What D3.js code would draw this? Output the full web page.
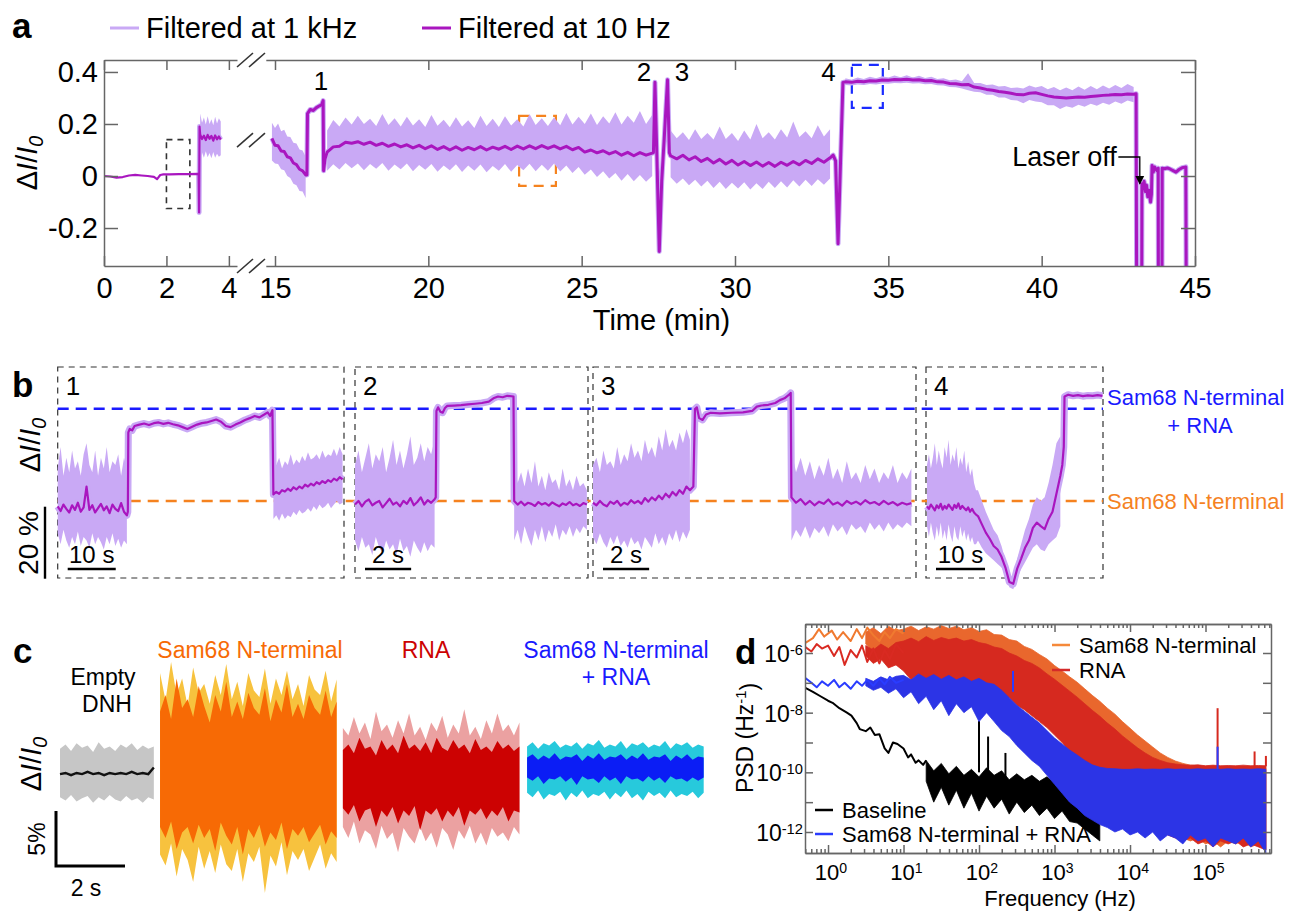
<!DOCTYPE html>
<html>
<head>
<meta charset="utf-8">
<script src="https://cdnjs.cloudflare.com/ajax/libs/d3/7.8.5/d3.min.js"></script>
<style>
  html, body { margin: 0; padding: 0; background: #fff; }
  svg { display: block; }
</style>
</head>
<body>
<svg id="chart" width="1294" height="912"></svg>
<script>
// ======================= DATA =======================

// ---- Panel a: ΔI/I0 versus time (min), broken time axis ----
const aXTicksLeft = [0, 2, 4];
const aXTicksRight = [15, 20, 25, 30, 35, 40, 45];
const aYTicks = [-0.2, 0, 0.2, 0.4];

// 10 Hz trace before the axis break: [min, ΔI/I0]
const a1Line = [[0,0],[0.2,-0.002],[0.4,-0.006],[0.6,-0.004],[0.8,0.002],[1.0,0.004],[1.2,0.002],[1.4,0],[1.6,-0.003],[1.7,-0.012],[1.75,-0.004],[1.8,0.004],[1.9,0.006],[2.1,0.006],[2.4,0.007],[2.7,0.007],[3.0,0.008],[3.03,0.008],[3.045,-0.14],[3.06,0.19]];
// first capture, sampled every 0.06 min from 3.08 min
const a1bStart = 3.08, a1bStep = 0.06;
const a1bDark = [0.16,0.142,0.155,0.138,0.158,0.143,0.154,0.136,0.156,0.141,0.152,0.14];
const a1bHi   = [0.24,0.205,0.225,0.198,0.23,0.2,0.218,0.195,0.228,0.202,0.222,0.21];
const a1bLo   = [0.065,0.09,0.07,0.095,0.072,0.088,0.068,0.092,0.07,0.086,0.074,0.08];

// after the break; pieces sampled on regular grids (10 Hz trace, 1 kHz envelope)
const aAStart = 14.9, aAStep = 0.1;
const aADark = [0.145,0.118,0.116,0.096,0.094,0.074,0.070,0.050,0.044,0.026,0.020,0.004];
const aAHi   = [0.205,0.185,0.202,0.172,0.178,0.152,0.150,0.128,0.125,0.102,0.098,0.074];
const aALo   = [0.060,0.048,0.046,0.026,0.022,0.000,-0.008,-0.030,-0.036,-0.058,-0.060,-0.085];

const aEvent1 = [[16.04,0.004],[16.06,0.24],[16.15,0.256],[16.25,0.252],[16.35,0.263],[16.45,0.27],[16.52,0.274],[16.57,0.29],[16.585,0.02],[16.63,0.065]];

const aBStart = 16.7, aBStep = 0.2;
const aBDark = [0.092,0.112,0.114,0.130,0.126,0.132,0.122,0.130,0.118,0.126,
  0.114,0.123,0.112,0.120,0.108,0.118,0.105,0.116,0.102,0.113,
  0.100,0.112,0.099,0.110,0.101,0.113,0.100,0.111,0.103,0.114,
  0.102,0.115,0.104,0.116,0.105,0.117,0.106,0.116,0.104,0.114,
  0.101,0.110,0.092,0.100,0.089,0.097,0.085,0.094,0.080,0.091,
  0.078,0.090,0.080,0.088];
const aBHi = [0.175,0.215,0.19,0.225,0.198,0.232,0.2,0.22,0.192,0.238,
  0.196,0.222,0.19,0.228,0.194,0.218,0.188,0.235,0.193,0.216,
  0.187,0.226,0.19,0.214,0.185,0.232,0.192,0.22,0.188,0.23,
  0.194,0.218,0.19,0.238,0.196,0.222,0.192,0.226,0.195,0.242,
  0.198,0.228,0.2,0.24,0.196,0.23,0.202,0.245,0.198,0.232,
  0.205,0.25,0.2,0.235];
const aBLo = [0.02,0.045,0.025,0.05,0.03,0.048,0.022,0.046,0.028,0.05,
  0.02,0.044,0.026,0.048,0.018,0.042,0.024,0.046,0.016,0.04,
  0.022,0.045,0.015,0.04,0.02,0.044,0.014,0.038,0.02,0.046,
  0.016,0.042,0.022,0.047,0.018,0.043,0.02,0.048,0.017,0.04,
  0.012,0.035,0.005,0.025,-0.004,0.018,-0.01,0.012,-0.018,0.008,
  -0.02,0.004,-0.022,0.0];

const aEvents23 = [[27.34,0.09],[27.39,0.36],[27.45,0.09],[27.53,-0.29],[27.61,-0.02],[27.7,0.16],[27.8,0.37],[27.86,0.09]];

const aCStart = 27.9, aCStep = 0.2;
const aCDark = [0.078,0.066,0.080,0.062,0.074,0.056,0.068,0.050,0.064,0.046,
  0.060,0.042,0.056,0.040,0.054,0.038,0.052,0.037,0.053,0.041,
  0.056,0.043,0.060,0.048,0.066,0.053,0.070];
const aCHi = [0.175,0.145,0.168,0.138,0.18,0.142,0.165,0.14,0.19,0.142,
  0.165,0.135,0.175,0.14,0.2,0.145,0.168,0.14,0.18,0.148,
  0.21,0.15,0.172,0.145,0.195,0.152,0.18];
const aCLo = [-0.005,-0.03,-0.01,-0.036,-0.014,-0.04,-0.018,-0.046,-0.022,-0.05,
  -0.026,-0.048,-0.024,-0.052,-0.028,-0.05,-0.022,-0.046,-0.02,-0.044,
  -0.016,-0.04,-0.014,-0.038,-0.012,-0.034,-0.01];

const aEvent4 = [[33.2,0.08],[33.28,0.058],[33.36,-0.26],[33.44,0.05],[33.52,0.36]];

const aDStart = 33.6, aDStep = 0.2;
const aDDark = [0.362,0.360,0.364,0.362,0.366,0.365,0.369,0.368,0.371,0.370,
  0.372,0.369,0.370,0.366,0.367,0.362,0.361,0.356,0.355,0.351,
  0.352,0.342,0.338,0.333,0.330,0.325,0.322,0.318,0.313,0.312,
  0.318,0.320,0.314,0.308,0.304,0.302,0.300,0.302,0.304,0.303,
  0.306,0.308,0.310,0.311,0.313,0.312,0.315,0.314];
const aDHi = [0.376,0.37,0.379,0.373,0.382,0.376,0.384,0.379,0.386,0.38,
  0.387,0.379,0.385,0.377,0.382,0.373,0.376,0.368,0.371,0.364,
  0.395,0.358,0.358,0.35,0.352,0.344,0.346,0.338,0.34,0.336,
  0.348,0.34,0.346,0.334,0.342,0.33,0.34,0.33,0.344,0.332,
  0.346,0.334,0.348,0.336,0.35,0.338,0.354,0.342];
const aDLo = [0.350,0.348,0.352,0.350,0.354,0.352,0.356,0.355,0.358,0.357,
  0.359,0.356,0.357,0.353,0.354,0.349,0.348,0.342,0.341,0.336,
  0.330,0.324,0.322,0.312,0.312,0.302,0.302,0.292,0.29,0.28,
  0.292,0.286,0.284,0.272,0.272,0.258,0.268,0.262,0.274,0.266,
  0.278,0.27,0.282,0.274,0.286,0.278,0.29,0.284];

// laser switched off: trace falls off-scale between short recoveries
const aLaserOff = [[43.08,0.316],[43.1,-0.6],[43.26,-0.6],[43.27,-0.03],[43.3,-0.05],[43.34,-0.02],[43.38,-0.06],[43.42,-0.035],[43.46,-0.08],[43.5,-0.055],[43.55,-0.1],[43.58,-0.07],[43.6,0.04],[43.64,0.015],[43.68,0.035],[43.72,0.028],[43.76,0.02],[43.8,0.03],[43.81,-0.6],[43.92,-0.6],[43.93,0.03],[44.0,0.028],[44.1,0.031],[44.2,0.026],[44.3,0.02],[44.38,0.015],[44.48,0.025],[44.58,0.032],[44.7,0.035],[44.72,-0.6]];

// highlighted windows in panel a
const aWindows = [
  {seg: 1, t0: 2.0,  t1: 2.75,  v0: -0.125, v1: 0.14,  color: "#333333", dash: "6,5",  w: 1.6},
  {seg: 2, t0: 22.96, t1: 24.16, v0: -0.038, v1: 0.231, color: "#f5831f", dash: "10,7", w: 2.2},
  {seg: 2, t0: 33.81, t1: 34.82, v0: 0.262,  v1: 0.427, color: "#1a2bff", dash: "10,7", w: 2.2}
];
const aEventLabels = [{t: 16.5, v: 0.33, s: "1"}, {t: 27.03, v: 0.365, s: "2"}, {t: 28.27, v: 0.365, s: "3"}, {t: 33.05, v: 0.365, s: "4"}];

// ---- Panel b: the four capture events (s, ΔI/I0) ----
const bDur = [59.6, 10.1, 14.0, 36.1];
const bScaleBar = [10, 2, 2, 10];
const bNames = ["1", "2", "3", "4"];
const bLevels = [0.10, 0.356];

const b1PreStart = 0, b1PreStep = 0.6;
const b1PreDark = [0.085,0.072,0.090,0.078,0.068,0.088,0.075,0.095,0.070,0.082,0.140,0.075,0.088,0.068,0.080,0.092,0.074,0.085,0.066,0.090,0.078,0.072,0.094,0.070,0.060];
const b1PreHi = [0.19,0.25,0.17,0.22,0.18,0.24,0.19,0.21,0.17,0.23,0.26,0.2,0.18,0.24,0.17,0.22,0.19,0.25,0.18,0.21,0.2,0.23,0.17,0.22,0.19];
const b1PreLo = [0.01,-0.02,0.02,-0.01,-0.03,0.0,-0.02,0.015,-0.025,0.0,-0.01,-0.03,0.01,-0.02,0.0,-0.015,-0.035,0.0,-0.02,0.01,-0.025,-0.005,-0.03,-0.01,-0.02];
const b1Plateau = [[14.6,0.07],[14.7,0.29],[15.0,0.30],[15.5,0.296],[16,0.308],[17,0.312],[18,0.315],[19,0.311],[20,0.316],[21,0.318],[22,0.314],[23,0.317],[24,0.313],[25,0.31],[26,0.305],[27,0.3],[28,0.306],[29,0.312],[30,0.316],[31,0.318],[32,0.322],[33,0.326],[34,0.32],[35,0.308],[36,0.305],[37,0.312],[38,0.318],[39,0.325],[40,0.33],[41,0.336],[42,0.332],[43,0.34],[43.7,0.346],[44.2,0.336],[44.7,0.352]];
const b1PostStart = 44.9, b1PostStep = 0.6;
const b1PostDark = [0.118,0.125,0.12,0.13,0.126,0.134,0.128,0.138,0.132,0.14,0.135,0.145,0.14,0.148,0.143,0.152,0.147,0.155,0.15,0.158,0.153,0.162,0.157,0.166,0.16];
const b1PostHi = [0.19,0.2,0.22,0.19,0.21,0.2,0.23,0.2,0.215,0.205,0.225,0.21,0.235,0.215,0.22,0.23,0.215,0.24,0.22,0.23,0.225,0.245,0.225,0.25,0.23];
const b1PostLo = [0.05,0.06,0.045,0.065,0.05,0.06,0.055,0.07,0.06,0.075,0.065,0.07,0.08,0.07,0.085,0.075,0.09,0.08,0.085,0.095,0.08,0.09,0.1,0.09,0.095];

const b2PreStart = 0, b2PreStep = 0.15;
const b2PreDark = [0.09,0.1,0.085,0.098,0.104,0.088,0.095,0.1,0.082,0.094,0.106,0.09,0.096,0.085,0.1,0.092,0.108,0.088,0.097,0.11,0.09,0.102,0.095,0.105];
const b2PreHi = [0.2,0.24,0.18,0.22,0.26,0.19,0.23,0.21,0.25,0.18,0.22,0.27,0.2,0.24,0.19,0.23,0.28,0.2,0.22,0.26,0.21,0.25,0.23,0.27];
const b2PreLo = [-0.01,-0.04,0.0,-0.03,-0.02,-0.05,0.0,-0.03,-0.045,-0.01,-0.035,-0.02,-0.05,-0.005,-0.04,-0.025,-0.055,-0.01,-0.03,-0.045,-0.015,-0.04,-0.02,-0.03];
const b2Plateau = [[3.5,0.11],[3.53,0.35],[3.6,0.36],[3.7,0.348],[3.8,0.345],[3.9,0.358],[4.0,0.364],[4.3,0.365],[4.6,0.366],[4.9,0.368],[5.2,0.37],[5.5,0.372],[5.8,0.376],[6.0,0.385],[6.2,0.39],[6.4,0.388],[6.6,0.392],[6.87,0.39]];
const b2PostStart = 6.9, b2PostStep = 0.15;
const b2PostDark = [0.1,0.09,0.098,0.088,0.095,0.092,0.086,0.097,0.09,0.094,0.087,0.096,0.09,0.085,0.093,0.089,0.097,0.088,0.092,0.086,0.094,0.09];
const b2PostHi = [0.2,0.15,0.18,0.14,0.19,0.15,0.21,0.14,0.17,0.13,0.18,0.15,0.16,0.13,0.19,0.14,0.16,0.13,0.17,0.14,0.15,0.13];
const b2PostLo = [-0.01,0.02,-0.02,0.03,0.0,-0.025,0.02,-0.01,0.03,-0.015,0.02,0.0,0.035,-0.01,0.02,0.005,0.03,0.0,0.025,0.01,0.03,0.02];

const b3PreStart = 0, b3PreStep = 0.15;
const b3PreDark = [0.095,0.088,0.1,0.09,0.085,0.098,0.092,0.1,0.087,0.095,0.09,0.102,0.094,0.1,0.092,0.108,0.098,0.11,0.102,0.115,0.105,0.12,0.11,0.125,0.115,0.13,0.12,0.14,0.13];
const b3PreHi = [0.2,0.22,0.18,0.24,0.2,0.21,0.19,0.25,0.2,0.23,0.21,0.26,0.22,0.24,0.21,0.27,0.23,0.25,0.22,0.28,0.24,0.3,0.25,0.27,0.24,0.29,0.26,0.3,0.27];
const b3PreLo = [0.0,-0.02,0.01,-0.015,-0.03,0.0,-0.02,0.005,-0.025,-0.01,-0.03,0.0,-0.02,-0.01,-0.035,0.0,-0.015,-0.03,0.01,-0.02,0.0,-0.025,0.01,-0.01,0.02,-0.015,0.015,-0.005,0.02];
const b3Plateau = [[4.35,0.14],[4.42,0.355],[4.5,0.36],[4.6,0.33],[4.75,0.325],[4.9,0.34],[5.1,0.345],[5.5,0.343],[6.0,0.345],[6.5,0.346],[6.9,0.35],[7.1,0.362],[7.3,0.365],[7.6,0.367],[7.9,0.372],[8.1,0.38],[8.3,0.385],[8.5,0.395],[8.57,0.4]];
const b3PostStart = 8.6, b3PostStep = 0.2;
const b3PostDark = [0.11,0.095,0.105,0.09,0.1,0.088,0.098,0.092,0.104,0.09,0.096,0.087,0.1,0.092,0.098,0.09,0.102,0.093,0.097,0.089,0.1,0.091,0.097,0.088,0.095,0.09,0.094];
const b3PostHi = [0.24,0.18,0.22,0.17,0.21,0.16,0.2,0.17,0.22,0.16,0.19,0.15,0.21,0.16,0.18,0.15,0.2,0.16,0.19,0.15,0.18,0.16,0.2,0.15,0.18,0.16,0.19];
const b3PostLo = [-0.01,0.02,0.0,0.03,-0.005,0.025,0.01,0.03,0.0,0.035,0.015,0.03,0.005,0.035,0.02,0.03,0.01,0.04,0.02,0.035,0.015,0.04,0.02,0.035,0.025,0.04,0.03];

const b4PreStart = 0.2, b4PreStep = 0.4;
const b4PreDark = [0.085,0.078,0.09,0.082,0.074,0.088,0.08,0.092,0.076,0.086,0.079,0.09,0.083,0.075,0.089,0.081,0.093,0.078,0.086,0.08,0.074,0.082,0.07,0.078,0.068,0.062];
const b4PreHi = [0.2,0.23,0.19,0.22,0.26,0.2,0.24,0.21,0.19,0.25,0.22,0.27,0.2,0.23,0.21,0.25,0.19,0.22,0.2,0.24,0.18,0.21,0.17,0.19,0.15,0.13];
const b4PreLo = [0.03,0.0,0.04,0.01,-0.01,0.03,0.0,0.04,-0.005,0.02,-0.01,0.035,0.005,-0.015,0.03,0.0,-0.01,0.03,0.0,0.02,-0.01,0.01,-0.015,0.0,-0.02,-0.02];
const b4MidStart = 10.6, b4MidStep = 0.8;
const b4MidDark = [0.058,0.035,0.012,-0.005,-0.025,-0.035,-0.055,-0.085,-0.125,-0.13,-0.088,-0.06,-0.03,-0.01,0.025,0.04,0.03,0.022,0.05,0.07,0.12,0.17];
const b4MidHi = [0.13,0.1,0.07,0.045,0.02,0.005,-0.025,-0.065,-0.11,-0.115,-0.06,-0.02,0.02,0.05,0.09,0.11,0.1,0.11,0.15,0.2,0.26,0.28];
const b4MidLo = [-0.01,-0.03,-0.045,-0.055,-0.065,-0.075,-0.085,-0.105,-0.14,-0.145,-0.115,-0.09,-0.07,-0.05,-0.03,-0.02,-0.035,-0.04,-0.02,-0.01,0.0,0.03];
const b4Plateau = [[27.8,0.2],[28.1,0.25],[28.25,0.39],[29,0.395],[30,0.392],[31,0.394],[32,0.391],[33,0.393],[34,0.392],[35,0.394],[36,0.392]];

// ---- Panel c: 1 kHz / 10 Hz noise of each state (s, ΔI/I0) ----
const cStart = [0, 2.9, 8.2, 13.54];
const cStep = 0.16;
const cOffset = [0, 0.001, -0.004, 0.002];
const grayHi = [0.022,0.026,0.02,0.027,0.023,0.025,0.019,0.028,0.022,0.024,0.02,0.026,0.023,0.027,0.021,0.025,0.022,0.024];
const grayLo = [-0.022,-0.025,-0.02,-0.026,-0.023,-0.021,-0.027,-0.022,-0.025,-0.02,-0.024,-0.026,-0.021,-0.025,-0.023,-0.027,-0.022,-0.024];
const grayLine = [-0.001,0,-0.002,0,-0.001,0.001,-0.001,0,-0.002,0,-0.001,0,-0.001,0.001,-0.001,0,-0.001,0.005];
const orangeLightHi = [0.09,0.065,0.1,0.07,0.085,0.06,0.095,0.072,0.08,0.062,0.088,0.07,0.098,0.066,0.082,0.06,0.09,0.074,0.068,0.094,0.062,0.085,0.07,0.092,0.066,0.08,0.06,0.088,0.075,0.07,0.092,0.064,0.084];
const orangeLightLo = [-0.075,-0.085,-0.065,-0.095,-0.07,-0.08,-0.1,-0.068,-0.088,-0.072,-0.092,-0.066,-0.084,-0.09,-0.07,-0.1,-0.074,-0.082,-0.068,-0.11,-0.076,-0.086,-0.064,-0.094,-0.072,-0.08,-0.07,-0.09,-0.078,-0.066,-0.088,-0.074,-0.082];
const orangeDarkHi = [0.055,0.07,0.048,0.085,0.058,0.066,0.05,0.078,0.06,0.045,0.07,0.055,0.082,0.05,0.064,0.048,0.072,0.058,0.052,0.076,0.046,0.066,0.054,0.08,0.05,0.062,0.048,0.07,0.058,0.052,0.074,0.05,0.064];
const orangeDarkLo = [-0.05,-0.06,-0.045,-0.07,-0.055,-0.05,-0.065,-0.048,-0.06,-0.052,-0.072,-0.046,-0.058,-0.066,-0.05,-0.075,-0.052,-0.06,-0.048,-0.068,-0.055,-0.062,-0.046,-0.07,-0.052,-0.058,-0.05,-0.064,-0.056,-0.048,-0.066,-0.054,-0.06];
const redLightHi = [0.045,0.038,0.055,0.04,0.05,0.035,0.06,0.042,0.048,0.036,0.052,0.04,0.058,0.038,0.046,0.034,0.05,0.042,0.056,0.036,0.048,0.04,0.062,0.038,0.046,0.035,0.052,0.04,0.058,0.042,0.048,0.038,0.05];
const redLightLo = [-0.045,-0.055,-0.04,-0.06,-0.048,-0.052,-0.065,-0.044,-0.056,-0.05,-0.068,-0.046,-0.054,-0.06,-0.045,-0.058,-0.05,-0.064,-0.046,-0.052,-0.066,-0.048,-0.056,-0.044,-0.06,-0.05,-0.062,-0.046,-0.054,-0.05,-0.058,-0.045,-0.052];
const redDarkHi = [0.025,0.03,0.022,0.036,0.026,0.028,0.02,0.034,0.025,0.03,0.022,0.038,0.026,0.03,0.024,0.032,0.022,0.036,0.027,0.024,0.034,0.026,0.03,0.022,0.035,0.025,0.028,0.023,0.033,0.026,0.03,0.024,0.028];
const redDarkLo = [-0.028,-0.034,-0.025,-0.04,-0.03,-0.028,-0.045,-0.03,-0.036,-0.027,-0.042,-0.03,-0.035,-0.026,-0.048,-0.03,-0.034,-0.028,-0.04,-0.03,-0.036,-0.027,-0.044,-0.03,-0.034,-0.028,-0.038,-0.03,-0.035,-0.027,-0.04,-0.03,-0.032];
const cyanHi = [0.022,0.026,0.02,0.025,0.023,0.027,0.021,0.024,0.022,0.026,0.02,0.025,0.023,0.028,0.021,0.024,0.022,0.027,0.02,0.025,0.023,0.026,0.021,0.024,0.022,0.027,0.02,0.025,0.023,0.026,0.021,0.024,0.022];
const cyanLo = [-0.02,-0.024,-0.018,-0.026,-0.021,-0.023,-0.019,-0.027,-0.02,-0.024,-0.018,-0.025,-0.021,-0.023,-0.019,-0.026,-0.02,-0.024,-0.018,-0.025,-0.021,-0.027,-0.019,-0.023,-0.02,-0.025,-0.018,-0.024,-0.021,-0.023,-0.019,-0.025,-0.02];
const blueHi = [0.012,0.015,0.01,0.014,0.011,0.016,0.01,0.013,0.012,0.015,0.009,0.014,0.011,0.016,0.01,0.013,0.012,0.015,0.01,0.014,0.011,0.016,0.01,0.013,0.012,0.015,0.009,0.014,0.011,0.015,0.01,0.013,0.012];
const blueLo = [-0.006,-0.009,-0.005,-0.012,-0.007,-0.008,-0.005,-0.01,-0.006,-0.013,-0.005,-0.008,-0.007,-0.011,-0.005,-0.009,-0.006,-0.012,-0.005,-0.008,-0.007,-0.01,-0.005,-0.009,-0.006,-0.011,-0.005,-0.008,-0.007,-0.01,-0.006,-0.009,-0.006];

// ---- Panel d: power spectral density, values are log10(Hz) and log10(PSD) ----
const dXTickExp = [0, 1, 2, 3, 4, 5];
const dYTickExp = [-12, -11, -10, -9, -8, -7, -6];
const dYLabelExp = [-12, -10, -8, -6];
const psdBandStart = 0.5, psdBandStep = 0.1;
const orangeLow = [[-0.30,-5.66],[-0.2,-5.5],[-0.12,-5.2],[-0.05,-5.45],[0.05,-5.25],[0.12,-5.55],[0.2,-5.3],[0.3,-5.6],[0.38,-5.2],[0.45,-5.5],[0.52,-5.15],[0.6,-5.4],[0.68,-5.6],[0.75,-5.3],[0.82,-5.5],[0.9,-5.2],[1.0,-5.35]];
const orangeHi = [-5.3,-5.15,-5.35,-5.1,-5.25,
  -5.2,-5.1,-5.25,-5.12,-5.2,-5.08,-5.18,-5.1,-5.22,-5.15,
  -5.28,-5.22,-5.38,-5.4,-5.55,-5.6,-5.78,-5.88,-6.05,-6.2,
  -6.42,-6.6,-6.8,-6.98,-7.2,-7.42,-7.62,-7.85,-8.05,-8.3,
  -8.52,-8.75,-8.95,-9.15,-9.35,-9.5,-9.62,-9.7,-9.76,-9.78,
  -9.8,-9.78,-9.8,-9.82,-9.8,-9.82,-9.8,-9.82,-9.84];
const orangeLo = [-5.7,-5.95,-5.8,-6.15,-6.0,
  -6.3,-6.6,-6.4,-6.8,-6.5,-6.9,-6.6,-7.0,-6.7,-7.1,
  -6.8,-7.1,-6.9,-7.2,-7.1,-7.3,-7.4,-7.6,-7.8,-8.0,
  -8.3,-8.5,-8.8,-9.0,-9.3,-9.6,-9.9,-10.2,-10.5,-10.8,
  -11.0,-11.3,-11.5,-11.7,-11.9,-12.0,-12.1,-12.2,-12.3,-12.2,
  -12.4,-12.3,-12.5,-12.3,-12.4,-12.3,-12.5,-12.4,-12.6];
const redLow = [[-0.30,-5.8],[-0.22,-5.95],[-0.15,-5.7],[-0.08,-5.85],[0.0,-5.75],[0.08,-6.1],[0.15,-5.8],[0.22,-6.4],[0.3,-5.9],[0.38,-6.15],[0.45,-5.75],[0.52,-6.3],[0.6,-5.85],[0.68,-6.35],[0.75,-5.9],[0.82,-6.2],[0.9,-5.7],[1.0,-6.0]];
const redHi = [-5.75,-5.9,-5.7,-5.85,-5.65,
  -5.6,-5.5,-5.62,-5.45,-5.58,-5.48,-5.55,-5.5,-5.6,-5.55,
  -5.65,-5.7,-5.8,-5.85,-6.0,-6.1,-6.25,-6.35,-6.5,-6.7,
  -6.88,-7.08,-7.28,-7.48,-7.7,-7.92,-8.12,-8.35,-8.55,-8.78,
  -8.98,-9.18,-9.35,-9.5,-9.6,-9.68,-9.72,-9.75,-9.76,-9.75,
  -9.78,-9.76,-9.78,-9.77,-9.78,-9.76,-9.78,-9.77,-9.78];
const redLo = [-6.1,-6.35,-6.2,-6.5,-6.4,
  -6.6,-6.9,-6.7,-7.1,-6.8,-7.2,-6.9,-7.3,-7.0,-7.35,
  -7.1,-7.4,-7.3,-7.6,-7.5,-7.75,-7.9,-8.1,-8.3,-8.5,
  -8.75,-9.0,-9.3,-9.55,-9.85,-10.1,-10.4,-10.7,-11.0,-11.2,
  -11.4,-11.6,-11.8,-11.9,-12.0,-12.1,-12.2,-12.3,-12.2,-12.4,
  -12.3,-12.5,-12.3,-12.4,-12.3,-12.5,-12.4,-12.5,-12.6];
const blueLow = [[-0.30,-6.84],[-0.22,-7.0],[-0.15,-7.15],[-0.08,-6.95],[0.0,-7.1],[0.08,-6.9],[0.15,-7.15],[0.22,-7.0],[0.3,-7.2],[0.38,-6.95],[0.45,-7.1],[0.52,-6.9],[0.6,-7.1],[0.68,-6.85],[0.75,-7.05],[0.82,-6.8],[0.9,-7.0],[1.0,-6.9]];
const blueHiPsd = [-6.85,-6.95,-6.8,-6.9,-6.78,
  -6.75,-6.9,-6.7,-6.85,-6.72,-6.88,-6.75,-6.9,-6.8,-6.95,
  -6.85,-7.0,-7.05,-7.25,-7.5,-7.75,-7.95,-8.15,-8.35,-8.6,
  -8.85,-9.05,-9.25,-9.42,-9.6,-9.75,-9.83,-9.87,-9.88,-9.9,
  -9.9,-9.88,-9.9,-9.89,-9.9,-9.88,-9.9,-9.89,-9.9,-9.88,
  -9.9,-9.89,-9.9,-9.88,-9.9,-9.89,-9.9,-9.88,-9.9];
const blueLoPsd = [-7.1,-7.25,-7.15,-7.35,-7.2,
  -7.5,-7.3,-7.7,-7.45,-7.9,-7.6,-8.1,-7.7,-8.0,-7.8,
  -8.3,-8.0,-8.3,-8.6,-8.8,-9.1,-9.35,-9.6,-9.8,-10.1,
  -10.4,-10.7,-11.0,-11.2,-11.45,-11.6,-11.75,-11.85,-12.0,-11.9,
  -12.1,-12.0,-12.2,-12.0,-12.3,-12.1,-12.2,-12.4,-12.1,-12.3,
  -12.2,-12.5,-12.2,-12.3,-12.4,-12.2,-12.5,-12.3,-12.7];
const blackLow = [[-0.30,-7.17],[-0.2,-7.3],[-0.1,-7.45],[0.0,-7.6],[0.06,-7.67],[0.15,-7.85],[0.25,-8.0],[0.31,-8.1],[0.38,-8.35],[0.42,-8.55],[0.5,-8.62],[0.56,-8.5],[0.62,-8.75],[0.68,-8.72],[0.75,-9.2],[0.8,-9.35],[0.86,-9.0],[0.92,-9.05],[1.0,-9.2],[1.06,-9.5],[1.1,-9.4],[1.16,-9.68],[1.2,-9.6],[1.26,-9.75],[1.3,-9.6]];
const blackBandStart = 1.3;
const blackHi = [-9.6,-9.95,-9.7,-10.05,-9.8,-10.1,-9.9,-10.15,-9.85,-10.1,-9.95,-10.25,-10.05,-10.25,-10.1,-10.3,-10.15,-10.35,-10.2,-10.45,-10.5,-10.65,-10.8,-11.0];
const blackLo = [-10.3,-11.0,-10.5,-11.1,-10.6,-11.2,-10.7,-11.3,-10.8,-11.2,-10.9,-11.4,-11.0,-11.35,-11.1,-11.45,-11.2,-11.55,-11.3,-11.65,-11.7,-11.9,-12.1,-12.3];
// narrow spectral lines: [log10 f, from, to]
const blackPeaks = [[2.0,-10.0,-8.28],[2.12,-10.1,-8.8],[2.35,-10.2,-9.35]];
const bluePeaks = [[2.45,-7.3,-6.6],[5.16,-9.9,-9.14]];
const redPeaks = [[5.16,-9.8,-7.85],[5.65,-9.8,-9.3],[5.8,-9.8,-9.45]];

// ======================= DRAWING =======================
const FONT = '"Liberation Sans", Arial, Helvetica, sans-serif';
const LIGHT = "#c9a9f5", DARK = "#a916bf", AXIS = "#666666";
const svg = d3.select("#chart").attr("font-family", FONT);
const defs = svg.append("defs");

const grid = (start, step, ...cols) => cols[0].map((_, i) => [start + i * step, ...cols.map(c => c[i])]);

function frameAxis(g, size) {
  g.attr("font-family", FONT).attr("font-size", size);
  g.selectAll(".domain, .tick line").attr("stroke", AXIS).attr("stroke-width", 1.5);
  g.selectAll(".tick text").attr("fill", "#000");
}
function ratioLabel(g, x, y, size) {
  const t = g.append("text").attr("transform", `translate(${x},${y}) rotate(-90)`)
    .attr("text-anchor", "middle").attr("font-size", size).attr("fill", "#000");
  t.append("tspan").text("Δ");
  t.append("tspan").attr("font-style", "italic").text("I");
  t.append("tspan").text("/");
  t.append("tspan").attr("font-style", "italic").text("I");
  t.append("tspan").attr("font-style", "italic").attr("font-size", "0.68em").attr("dy", "0.32em").text("0");
}
function panelLetter(x, y, s) {
  svg.append("text").attr("x", x).attr("y", y).attr("font-size", 35).attr("font-weight", "bold").text(s);
}

// ---------------- Panel a ----------------
const xA1 = d3.scaleLinear().domain([0, 4.26]).range([104, 237]);
const xA2 = d3.scaleLinear().domain([14.7, 45]).range([265.8, 1195]);
const yA = d3.scaleLinear().domain([-0.346, 0.446]).range([266, 60]);
const gA = svg.append("g");

defs.append("clipPath").attr("id", "clipA").append("rect")
  .attr("x", xA1.range()[0]).attr("y", yA.range()[1])
  .attr("width", xA2.range()[1] - xA1.range()[0]).attr("height", yA.range()[0] - yA.range()[1]);

// windows drawn beneath the traces
aWindows.forEach(w => {
  const sx = w.seg === 1 ? xA1 : xA2;
  gA.append("rect").attr("x", sx(w.t0)).attr("y", yA(w.v1))
    .attr("width", sx(w.t1) - sx(w.t0)).attr("height", yA(w.v0) - yA(w.v1))
    .attr("fill", "none").attr("stroke", w.color).attr("stroke-width", w.w).attr("stroke-dasharray", w.dash);
});

const plotA = gA.append("g").attr("clip-path", "url(#clipA)");
function bandA(sx, pts) {
  plotA.append("path").datum(pts).attr("fill", LIGHT)
    .attr("d", d3.area().x(d => sx(d[0])).y0(d => yA(d[2])).y1(d => yA(d[3])));
}
const lineA = sx => d3.line().x(d => sx(d[0])).y(d => yA(d[1]));

// segment before the break
const a1b = grid(a1bStart, a1bStep, a1bDark, a1bLo, a1bHi);
bandA(xA1, a1b);
const a1All = a1Line.concat(a1b.map(d => [d[0], d[1]]));
plotA.append("path").datum(a1All.filter(d => d[0] > 3.02)).attr("fill", "none")
  .attr("stroke", LIGHT).attr("stroke-width", 5).attr("stroke-linejoin", "round").attr("d", lineA(xA1));
plotA.append("path").datum(a1All).attr("fill", "none")
  .attr("stroke", DARK).attr("stroke-width", 2.2).attr("stroke-linejoin", "round").attr("d", lineA(xA1));

// segment after the break
const pA = grid(aAStart, aAStep, aADark, aALo, aAHi);
const pB = grid(aBStart, aBStep, aBDark, aBLo, aBHi);
const pC = grid(aCStart, aCStep, aCDark, aCLo, aCHi);
const pD = grid(aDStart, aDStep, aDDark, aDLo, aDHi);
[pA, pB, pC, pD].forEach(p => bandA(xA2, p));
const a2All = [].concat(
  pA.map(d => [d[0], d[1]]), aEvent1, pB.map(d => [d[0], d[1]]), aEvents23,
  pC.map(d => [d[0], d[1]]), aEvent4, pD.map(d => [d[0], d[1]]), aLaserOff);
plotA.append("path").datum(a2All).attr("fill", "none")
  .attr("stroke", LIGHT).attr("stroke-width", 5).attr("stroke-linejoin", "round").attr("d", lineA(xA2));
plotA.append("path").datum(a2All).attr("fill", "none")
  .attr("stroke", DARK).attr("stroke-width", 3).attr("stroke-linejoin", "round").attr("d", lineA(xA2));

// axes (boxed, ticks inward)
[[xA1, aXTicksLeft], [xA2, aXTicksRight]].forEach(([sc, ticks]) => {
  gA.append("g").attr("transform", `translate(0,${yA.range()[0]})`)
    .call(d3.axisBottom(sc).tickValues(ticks).tickFormat(d3.format("d")).tickSizeInner(-10).tickSizeOuter(0).tickPadding(11))
    .call(frameAxis, 29);
  gA.append("g").attr("transform", `translate(0,${yA.range()[1]})`)
    .call(d3.axisTop(sc).tickValues(ticks).tickFormat("").tickSizeInner(-10).tickSizeOuter(0))
    .call(frameAxis, 29);
});
gA.append("g").attr("transform", `translate(${xA1.range()[0]},0)`)
  .call(d3.axisLeft(yA).tickValues(aYTicks).tickFormat(d => d === 0 ? "0" : d.toFixed(1)).tickSizeInner(-14).tickSizeOuter(0).tickPadding(6))
  .call(frameAxis, 29);
gA.append("g").attr("transform", `translate(${xA2.range()[1]},0)`)
  .call(d3.axisRight(yA).tickValues(aYTicks).tickFormat("").tickSizeInner(-14).tickSizeOuter(0))
  .call(frameAxis, 29);

// axis-break marks
const brk0 = xA1.range()[1];
[yA.range()[0], yA.range()[1], yA(0.138)].forEach(yc => {
  [0, 12].forEach(dx => gA.append("line")
    .attr("x1", brk0 + dx).attr("y1", yc + 7).attr("x2", brk0 + dx + 16).attr("y2", yc - 7)
    .attr("stroke", "#333").attr("stroke-width", 1.6));
});

gA.append("text").attr("x", (xA1.range()[0] + xA2.range()[1]) / 2 + 12).attr("y", 330)
  .attr("text-anchor", "middle").attr("font-size", 29).text("Time (min)");
ratioLabel(gA, 37, 163, 29);

aEventLabels.forEach(e => gA.append("text").attr("x", xA2(e.t)).attr("y", yA(e.v))
  .attr("text-anchor", "middle").attr("font-size", 26).text(e.s));

// "Laser off" annotation with elbow arrow
defs.append("marker").attr("id", "arrowHead").attr("viewBox", "0 0 10 10").attr("refX", 9).attr("refY", 5)
  .attr("markerWidth", 7).attr("markerHeight", 8).attr("orient", "auto-start-reverse")
  .append("path").attr("d", "M0,0 L10,5 L0,10 z").attr("fill", "#000");
gA.append("text").attr("x", xA2(42.45)).attr("y", yA(0.04)).attr("text-anchor", "end")
  .attr("font-size", 27).text("Laser off");
gA.append("path").attr("fill", "none").attr("stroke", "#000").attr("stroke-width", 1.3)
  .attr("marker-end", "url(#arrowHead)")
  .attr("d", `M${xA2(42.5)},${yA(0.073)} H${xA2(43.2)} V${yA(-0.03)}`);

// legend
const legA = [{x: 110, c: LIGHT, s: "Filtered at 1 kHz"}, {x: 422, c: DARK, s: "Filtered at 10 Hz"}];
legA.forEach(l => {
  gA.append("line").attr("x1", l.x).attr("x2", l.x + 29).attr("y1", 28).attr("y2", 28)
    .attr("stroke", l.c).attr("stroke-width", 3);
  gA.append("text").attr("x", l.x + 36).attr("y", 38).attr("font-size", 29).text(l.s);
});
panelLetter(12, 38, "a");

// ---------------- Panel b ----------------
const gB = svg.append("g");
const yB = d3.scaleLinear().domain([-0.114, 0.472]).range([578, 367]);
const bFrames = [[57.7, 344], [355, 588], [593, 916], [926, 1103]];
const bData = [
  {band: [grid(b1PreStart, b1PreStep, b1PreDark, b1PreLo, b1PreHi), grid(b1PostStart, b1PostStep, b1PostDark, b1PostLo, b1PostHi)], plateau: b1Plateau},
  {band: [grid(b2PreStart, b2PreStep, b2PreDark, b2PreLo, b2PreHi), grid(b2PostStart, b2PostStep, b2PostDark, b2PostLo, b2PostHi)], plateau: b2Plateau},
  {band: [grid(b3PreStart, b3PreStep, b3PreDark, b3PreLo, b3PreHi), grid(b3PostStart, b3PostStep, b3PostDark, b3PostLo, b3PostHi)], plateau: b3Plateau},
  {band: [grid(b4PreStart, b4PreStep, b4PreDark, b4PreLo, b4PreHi).concat(grid(b4MidStart, b4MidStep, b4MidDark, b4MidLo, b4MidHi)), []], plateau: b4Plateau}
];

// dashed frames
bFrames.forEach(f => gB.append("rect").attr("x", f[0]).attr("y", yB.range()[1])
  .attr("width", f[1] - f[0]).attr("height", yB.range()[0] - yB.range()[1])
  .attr("fill", "none").attr("stroke", "#333").attr("stroke-width", 1.2).attr("stroke-dasharray", "6,5"));

// reference levels
const bLevelColors = ["#f5821f", "#1a1aff"];
bLevels.forEach((v, i) => gB.append("line")
  .attr("x1", bFrames[0][0]).attr("x2", bFrames[3][1]).attr("y1", yB(v)).attr("y2", yB(v))
  .attr("stroke", bLevelColors[i]).attr("stroke-width", 2.6).attr("stroke-dasharray", "11,7"));

bData.forEach((bd, i) => {
  const xb = d3.scaleLinear().domain([0, bDur[i]]).range(bFrames[i]);
  bd.band.forEach(p => {
    if (!p.length) return;
    gB.append("path").datum(p).attr("fill", LIGHT)
      .attr("d", d3.area().x(d => xb(d[0])).y0(d => yB(d[2])).y1(d => yB(d[3])));
  });
  const full = [].concat(bd.band[0].map(d => [d[0], d[1]]), bd.plateau, bd.band[1].map(d => [d[0], d[1]]));
  const ln = d3.line().x(d => xb(d[0])).y(d => yB(d[1]));
  gB.append("path").datum(full).attr("fill", "none").attr("stroke", LIGHT)
    .attr("stroke-width", 7).attr("stroke-linejoin", "round").attr("d", ln);
  gB.append("path").datum(full).attr("fill", "none").attr("stroke", DARK)
    .attr("stroke-width", 2.2).attr("stroke-linejoin", "round").attr("d", ln);

  // event number and time scale bar
  gB.append("text").attr("x", bFrames[i][0] + 8).attr("y", 395).attr("font-size", 26).text(bNames[i]);
  const x0 = bFrames[i][0] + 10;
  const len = xb(bScaleBar[i]) - xb(0);
  gB.append("line").attr("x1", x0).attr("x2", x0 + len).attr("y1", 569).attr("y2", 569)
    .attr("stroke", "#000").attr("stroke-width", 2.6);
  gB.append("text").attr("x", x0 + len / 2).attr("y", 563).attr("text-anchor", "middle")
    .attr("font-size", 24).text(bScaleBar[i] + " s");
});

// level labels
gB.append("text").attr("x", bFrames[3][1] + 4).attr("y", yB(bLevels[1]) - 4).attr("font-size", 22)
  .attr("fill", "#1a1aff").text("Sam68 N-terminal");
gB.append("text").attr("x", 1200).attr("y", yB(bLevels[1]) + 24).attr("font-size", 22)
  .attr("text-anchor", "middle").attr("fill", "#1a1aff").text("+ RNA");
gB.append("text").attr("x", bFrames[3][1] + 4).attr("y", yB(bLevels[0]) + 8).attr("font-size", 22)
  .attr("fill", "#f5821f").text("Sam68 N-terminal");

// 20 % vertical scale bar
gB.append("line").attr("x1", 45).attr("x2", 45).attr("y1", yB(0.10 - 0.016)).attr("y2", yB(0.10 - 0.016) + (yB(0) - yB(0.2)))
  .attr("stroke", "#000").attr("stroke-width", 2.4);
gB.append("text").attr("transform", "translate(38,543) rotate(-90)").attr("text-anchor", "middle")
  .attr("font-size", 28).text("20 %");
ratioLabel(gB, 40, 445, 29);
panelLetter(12, 397, "b");

// ---------------- Panel c ----------------
const gC = svg.append("g");
const xC = d3.scaleLinear().domain([0, 18.64]).range([60, 703]);
const yC = d3.scaleLinear().domain([0, 0.05]).range([773, 718]);
const cBlocks = [
  {light: [grayHi, grayLo], dark: null, line: grayLine, lc: "#c6c6c6", dc: "#111111"},
  {light: [orangeLightHi, orangeLightLo], dark: [orangeDarkHi, orangeDarkLo], lc: "#f7c23e", dc: "#f76a05"},
  {light: [redLightHi, redLightLo], dark: [redDarkHi, redDarkLo], lc: "#eba1a1", dc: "#cc0202"},
  {light: [cyanHi, cyanLo], dark: [blueHi, blueLo], lc: "#27c9dc", dc: "#0b1df5"}
];
cBlocks.forEach((b, i) => {
  const off = cOffset[i];
  const tt = j => cStart[i] + j * cStep;
  const area = d3.area().x((d, j) => xC(tt(j))).y0(d => yC(d[1] + off)).y1(d => yC(d[0] + off));
  gC.append("path").datum(b.light[0].map((h, j) => [h, b.light[1][j]])).attr("fill", b.lc).attr("d", area);
  if (b.dark) {
    gC.append("path").datum(b.dark[0].map((h, j) => [h, b.dark[1][j]])).attr("fill", b.dc).attr("d", area);
  } else {
    gC.append("path").datum(b.line).attr("fill", "none").attr("stroke", b.dc).attr("stroke-width", 2.4)
      .attr("d", d3.line().x((d, j) => xC(tt(j))).y(d => yC(d + off)));
  }
});
// state labels
const cLabel = (x, y, s, c) => gC.append("text").attr("x", x).attr("y", y).attr("text-anchor", "middle")
  .attr("font-size", 23).attr("fill", c).text(s);
cLabel(103, 685, "Empty", "#000");
cLabel(107, 712, "DNH", "#000");
cLabel(250, 658, "Sam68 N-terminal", "#f76a05");
cLabel(426, 658, "RNA", "#cc0202");
cLabel(616, 658, "Sam68 N-terminal", "#1a1aff");
cLabel(616, 685, "+ RNA", "#1a1aff");
// scale bars: 5 % and 2 s
const cBarX = 56, cBarY = 866;
gC.append("path").attr("fill", "none").attr("stroke", "#000").attr("stroke-width", 3)
  .attr("d", `M${cBarX},${cBarY - (yC(0) - yC(0.05))} V${cBarY} H${cBarX + xC(2) - xC(0)}`);
gC.append("text").attr("transform", "translate(45,839) rotate(-90)").attr("text-anchor", "middle")
  .attr("font-size", 23).text("5%");
gC.append("text").attr("x", 86).attr("y", 896).attr("text-anchor", "middle").attr("font-size", 23).text("2 s");
ratioLabel(gC, 41, 764, 29);
panelLetter(13, 663, "c");

// ---------------- Panel d ----------------
const gD = svg.append("g");
const xD = d3.scaleLog().domain([0.4955, 7.37e5]).range([805, 1271]);
const yD = d3.scaleLog().domain([Math.pow(10, -12.704), Math.pow(10, -5.028)]).range([853, 624]);
const P = e => Math.pow(10, e);
defs.append("clipPath").attr("id", "clipD").append("rect")
  .attr("x", 805).attr("y", 624).attr("width", 466).attr("height", 229);
const plotD = gD.append("g").attr("clip-path", "url(#clipD)");
const dLine = d3.line().x(d => xD(P(d[0]))).y(d => yD(P(d[1])));
const dArea = d3.area().x(d => xD(P(d[0]))).y0(d => yD(P(d[1]))).y1(d => yD(P(d[2])));
function spectrum(low, bandStart, lo, hi, fill, stroke) {
  plotD.append("path").datum(grid(bandStart, psdBandStep, lo, hi)).attr("fill", fill)
    .attr("stroke", fill).attr("stroke-width", 0.8).attr("d", dArea);
  plotD.append("path").datum(low).attr("fill", "none").attr("stroke", stroke)
    .attr("stroke-width", 2).attr("stroke-linejoin", "round").attr("d", dLine);
}
function peaks(list, color) {
  list.forEach(p => plotD.append("line").attr("x1", xD(P(p[0]))).attr("x2", xD(P(p[0])))
    .attr("y1", yD(P(p[1]))).attr("y2", yD(P(p[2]))).attr("stroke", color).attr("stroke-width", 2));
}
spectrum(orangeLow, psdBandStart, orangeLo, orangeHi, "#e9672d", "#f07a30");
spectrum(redLow, psdBandStart, redLo, redHi, "#d6291f", "#d92a22");
spectrum(blackLow, blackBandStart, blackLo, blackHi, "#000000", "#000000");
peaks(blackPeaks, "#000");
spectrum(blueLow, psdBandStart, blueLoPsd, blueHiPsd, "#2c34e6", "#2a3cff");
peaks(redPeaks, "#d6291f");
peaks(bluePeaks, "#2a3cff");

// frame and log ticks
const dMajorX = dXTickExp.map(P);
const dMinorX = [];
d3.range(-1, 6).forEach(n => d3.range(2, 10).forEach(k => {
  const v = k * P(n);
  if (v > xD.domain()[0] && v < xD.domain()[1]) dMinorX.push(v);
}));
const dYT = dYTickExp.map(P);
[[d3.axisBottom, 853], [d3.axisTop, 624]].forEach(([ax, y]) => {
  gD.append("g").attr("transform", `translate(0,${y})`)
    .call(ax(xD).tickValues(dMinorX).tickFormat("").tickSizeInner(-4).tickSizeOuter(0)).call(frameAxis, 23);
  gD.append("g").attr("transform", `translate(0,${y})`)
    .call(ax(xD).tickValues(dMajorX).tickFormat("").tickSizeInner(-8).tickSizeOuter(0)).call(frameAxis, 23);
});
[[d3.axisLeft, 805], [d3.axisRight, 1271]].forEach(([ax, x]) => {
  gD.append("g").attr("transform", `translate(${x},0)`)
    .call(ax(yD).tickValues(dYT).tickFormat("").tickSizeInner(-8).tickSizeOuter(0)).call(frameAxis, 23);
});
function sci(t, exp) {
  t.append("tspan").text("10");
  t.append("tspan").attr("dy", "-0.48em").attr("font-size", "0.64em").text(exp);
}
dXTickExp.forEach(e => sci(gD.append("text").attr("x", xD(P(e)) + 3).attr("y", 880)
  .attr("text-anchor", "middle").attr("font-size", 22), String(e)));
dYLabelExp.forEach(e => sci(gD.append("text").attr("x", 803).attr("y", yD(P(e)) + 9)
  .attr("text-anchor", "end").attr("font-size", 23), String(e)));
gD.append("text").attr("x", 1060).attr("y", 906).attr("text-anchor", "middle").attr("font-size", 22).text("Frequency (Hz)");
const psdLab = gD.append("text").attr("transform", "translate(753,738) rotate(-90)").attr("text-anchor", "middle").attr("font-size", 23);
psdLab.append("tspan").text("PSD (Hz");
psdLab.append("tspan").attr("dy", "-0.45em").attr("font-size", "0.64em").text("-1");
psdLab.append("tspan").attr("dy", "0.45em").text(")");

// legend
const legD = [
  {x: 1052, y: 645, c: "#f5893a", s: "Sam68 N-terminal"},
  {x: 1052, y: 670, c: "#d42a2a", s: "RNA"},
  {x: 815, y: 810, c: "#000000", s: "Baseline"},
  {x: 815, y: 834, c: "#2a3cff", s: "Sam68 N-terminal + RNA"}
];
legD.forEach(l => {
  gD.append("line").attr("x1", l.x).attr("x2", l.x + 18).attr("y1", l.y).attr("y2", l.y)
    .attr("stroke", l.c).attr("stroke-width", 2.5);
  gD.append("text").attr("x", l.x + 27).attr("y", l.y + 8).attr("font-size", 22).text(l.s);
});
panelLetter(735, 664, "d");
</script>
</body>
</html>
